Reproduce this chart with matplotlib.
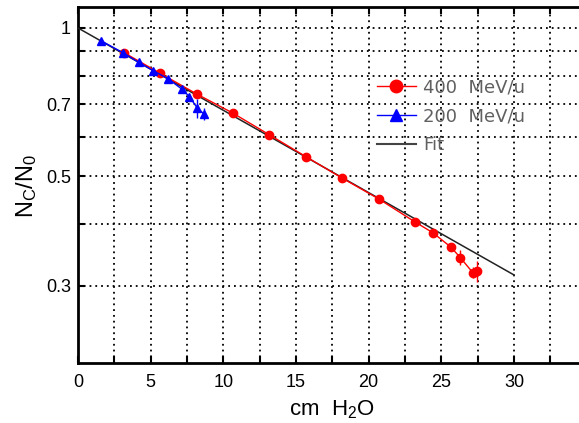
import numpy as np
import matplotlib
matplotlib.use('Agg')
from matplotlib import pyplot as plt
from matplotlib.lines import Line2D

plt.rcParams['font.family'] = ['Liberation Sans', 'DejaVu Sans']
plt.rcParams['mathtext.fontset'] = 'custom'
plt.rcParams['mathtext.rm'] = 'Liberation Sans'
plt.rcParams['mathtext.it'] = 'Liberation Sans'

# surviving fraction vs water depth
depth_400 = [3.17, 5.66, 8.19, 10.69, 13.17, 15.69, 18.17, 20.69, 23.19, 24.43, 25.67, 26.31, 27.16, 27.48]
frac_400 = [0.891, 0.809, 0.734, 0.671, 0.607, 0.548, 0.496, 0.450, 0.404, 0.384, 0.359, 0.342, 0.319, 0.321]
err_400 = [0.004, 0.004, 0.004, 0.004, 0.004, 0.004, 0.004, 0.004, 0.004, 0.005, 0.007, 0.012, 0.008, 0.016]

depth_200 = [1.56, 3.12, 4.17, 5.18, 6.22, 7.16, 7.66, 8.21, 8.67]
frac_200 = [0.943, 0.890, 0.852, 0.819, 0.788, 0.751, 0.726, 0.688, 0.669]
err_200 = [0.004, 0.004, 0.004, 0.004, 0.004, 0.006, 0.008, 0.030, 0.018]

# exponential fit N/N0 = exp(-x / lambda)
fit_lambda = 26.0
fit_x = np.array([0.0, 30.0])
fit_y = np.exp(-fit_x / fit_lambda)

fig = plt.figure(figsize=(5.79, 4.23), dpi=100)
ax = fig.add_axes([78 / 579, 60 / 423, 508.6 / 579, 356 / 423])

ax.plot(fit_x, fit_y, color='#222222', lw=1.1, zorder=3)
ax.errorbar(depth_400, frac_400, yerr=err_400, color='red', marker='o', ms=6,
            lw=1.0, elinewidth=1.0, capsize=0, zorder=4)
ax.errorbar(depth_200, frac_200, yerr=err_200, color='blue', marker='^', ms=5.5,
            lw=1.0, elinewidth=1.0, capsize=0, zorder=5)

ax.set_yscale('log')
ax.set_xlim(0, 35)
ax.set_ylim(0.209, 1.103)

ax.set_xticks([0, 5, 10, 15, 20, 25, 30])
ax.set_xticks(np.arange(2.5, 35, 5), minor=True)
ax.set_yticks([0.3, 0.5, 0.7, 1.0])
ax.set_yticklabels(['0.3', '0.5', '0.7', '1'])
ax.set_yticks([0.4, 0.6, 0.8, 0.9], minor=True)
ax.yaxis.set_minor_formatter(plt.NullFormatter())

ax.grid(True, which='both', ls=(0, (1, 2.2)), lw=1.3, color='black')
ax.tick_params(which='both', direction='in', top=True, length=5, width=1.5,
               labelsize=13, pad=8)
ax.tick_params(axis='y', pad=5)
for s in ax.spines.values():
    s.set_linewidth(2)

ax.set_xlabel(r'cm  H$_2$O', fontsize=16, labelpad=5)
fig.text(27 / 579, 1 - 186 / 423, r'N$_C$/N$_0$', rotation=90, fontsize=17,
         ha='center', va='center')

handles = [
    Line2D([], [], color='red', marker='o', ms=9, lw=1.0),
    Line2D([], [], color='blue', marker='^', ms=9, lw=1.0),
    Line2D([], [], color='#444444', lw=1.5),
]
leg = ax.legend(handles, ['400  MeV/u', '200  MeV/u', 'Fit'], loc='upper left',
                bbox_to_anchor=(0.555, 0.845), frameon=False,
                handlelength=2.2, handletextpad=0.4, labelspacing=0.6,
                prop={'family': 'DejaVu Sans', 'size': 13})
for t in leg.get_texts():
    t.set_color('#606060')

fig.savefig('out.png', dpi=100)
